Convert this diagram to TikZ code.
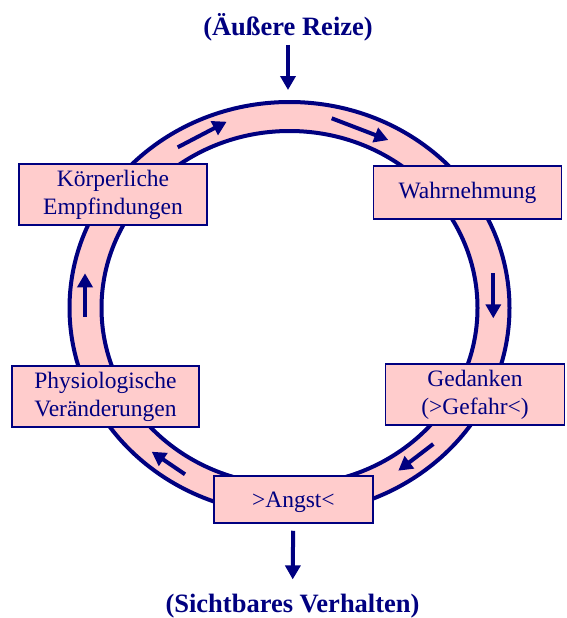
\documentclass[tikz,border=0pt]{standalone}
\usepackage{fontspec}
\setmainfont{Liberation Serif}
\usetikzlibrary{arrows.meta}
\definecolor{ringblue}{RGB}{0,0,128}
\definecolor{ringpink}{RGB}{255,204,204}

\tikzset{
  stage/.style={draw=ringblue, fill=ringpink, line width=1.5pt, text=ringblue,
    align=center, inner sep=0pt, font=\fontsize{23.5}{28}\selectfont},
  headline/.style={text=ringblue, inner sep=3pt, font=\fontsize{26.5}{32}\selectfont\bfseries},
  flow/.style={ringblue, line width=4pt, -{Triangle[length=14pt,width=15pt]}},
}

\begin{document}
\begin{tikzpicture}[x=1pt,y=-1pt]
    \def\cx{289.5}
    \def\cy{308}
    \useasboundingbox (0,0) rectangle (567,618);

    % ring
    \fill[ringpink, even odd rule] (\cx,\cy) ellipse [x radius=220pt, y radius=206pt]
        (\cx,\cy) ellipse [x radius=188pt, y radius=177pt];
    \draw[ringblue, line width=4pt] (\cx,\cy) ellipse [x radius=220pt, y radius=206pt];
    \draw[ringblue, line width=4pt] (\cx,\cy) ellipse [x radius=188pt, y radius=177pt];

    % arrows on the ring
    \draw[flow] (177.7,147.3) -- (226.7,121.7);
    \draw[flow] (331.7,118.3) -- (388.3,140);
    \draw[flow] (493.3,273.3) -- (493.3,318.3);
    \draw[flow] (433.3,444) -- (398.3,470.7);
    \draw[flow] (185,474.3) -- (151.7,451.7);
    \draw[flow] (85,316.7) -- (85,273.3);

    % stages
    \node[stage, minimum width=188pt, minimum height=61pt] (koerper) at (113,194.5) {Körperliche\\Empfindungen};
    \node[stage, minimum width=188pt, minimum height=53pt] (wahr) at (467.5,192.5) {Wahrnehmung};
    \node[stage, minimum width=179pt, minimum height=61pt] (gedanken) at (475,394.7) {Gedanken\\(>Gefahr<)};
    \node[stage, minimum width=187pt, minimum height=61pt] (physio) at (105.5,396.7) {Physiologische\\Veränderungen};
    \node[stage, minimum width=159pt, minimum height=47pt, text depth=0pt] (angst) at (293.4,499.5) {>Angst<};

    % in and out
    \node[headline, anchor=base] (reize) at (288,36) {(Äußere Reize)};
    \node[headline, anchor=base] (verhalten) at (292.5,612) {(Sichtbares Verhalten)};
    \coordinate (ringtop) at (288,90);
    \draw[flow] (reize) -- (ringtop);
    \draw[flow, shorten <=7pt, shorten >=11pt] (angst) -- (verhalten);

\end{tikzpicture}
\end{document}
